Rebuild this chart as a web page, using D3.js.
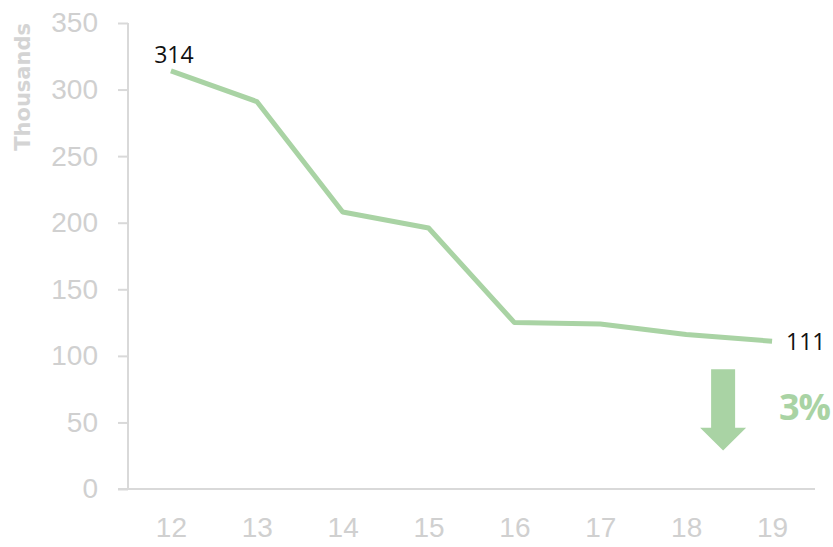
<!DOCTYPE html>
<html>
<head>
<meta charset="utf-8">
<script src="https://cdn.jsdelivr.net/npm/d3@7.9.0/dist/d3.min.js"></script>
<style>
  body { margin: 0; background: #fff; }
  svg { display: block; font-family: "Open Sans", "DejaVu Sans", sans-serif; }
</style>
</head>
<body>
<svg id="chart" width="833" height="547"></svg>
<script>
const years = ['12', '13', '14', '15', '16', '17', '18', '19'];
const values = [314, 291, 208, 196, 125, 124, 116, 111];
const yTicks = [0, 50, 100, 150, 200, 250, 300, 350];
const changeLabel = '3%';

const svg = d3.select('#chart');
const margin = { top: 23, right: 18, bottom: 58, left: 128 };
const w = 833 - margin.left - margin.right;
const h = 547 - margin.top - margin.bottom;
const green = '#a9d3a4';
const grey = '#d0d0d0';

const g = svg.append('g').attr('transform', `translate(${margin.left},${margin.top})`);

const x = d3.scalePoint().domain(years).range([0, w]).padding(0.5);
const y = d3.scaleLinear().domain([0, 350]).range([h, 0]);

// y axis
const yAxis = g.append('g')
  .call(d3.axisLeft(y).tickValues(yTicks).tickSize(10).tickPadding(20));
yAxis.selectAll('text').attr('fill', grey).style('font-size', '28px');
yAxis.selectAll('line').attr('stroke', '#d9d9d9').attr('stroke-width', 2);
yAxis.select('.domain').attr('stroke', '#d9d9d9').attr('stroke-width', 2).attr('d', `M0,0V${h}`);

// x axis
const xAxis = g.append('g')
  .attr('transform', `translate(0,${h})`)
  .call(d3.axisBottom(x).tickSize(0).tickPadding(28));
xAxis.selectAll('text').attr('fill', grey).style('font-size', '28px');
xAxis.select('.domain').attr('stroke', '#d9d9d9').attr('stroke-width', 2).attr('d', `M-10,0H${w}`);

// axis title
svg.append('text')
  .attr('transform', `translate(30,${margin.top + y(302)}) rotate(-90)`)
  .attr('text-anchor', 'middle')
  .attr('fill', '#d4d4d4')
  .style('font-family', '"DejaVu Sans", sans-serif')
  .style('font-size', '21px')
  .style('font-weight', 'bold')
  .text('Thousands');

// line
const line = d3.line()
  .x((d, i) => x(years[i]))
  .y(d => y(d));

g.append('path')
  .datum(values)
  .attr('d', line)
  .attr('fill', 'none')
  .attr('stroke', green)
  .attr('stroke-width', 5)
  .attr('stroke-linejoin', 'round');

// end labels
const last = values.length - 1;
g.append('text')
  .attr('x', x(years[0]) + 3)
  .attr('y', y(values[0]) - 8)
  .attr('text-anchor', 'middle')
  .style('font-size', '23px')
  .attr('fill', '#111')
  .text(values[0]);

g.append('text')
  .attr('x', x(years[last]) + 14)
  .attr('y', y(values[last]) + 9)
  .style('font-size', '23px')
  .attr('fill', '#111')
  .text(values[last]);

// down arrow
const ax = x(years[6]) + (x(years[7]) - x(years[6])) * 0.43;
const a0 = y(90), a1 = y(46), a2 = y(29);
g.append('path')
  .attr('d', `M${ax - 12},${a0}H${ax + 12}V${a1}H${ax + 23}L${ax},${a2}L${ax - 23},${a1}H${ax - 12}Z`)
  .attr('fill', green);

g.append('text')
  .attr('x', 830 - margin.left)
  .attr('y', y(52))
  .attr('text-anchor', 'end')
  .style('font-size', '36px')
  .style('font-weight', 'bold')
  .style('letter-spacing', '-1px')
  .attr('fill', green)
  .text(changeLabel);
</script>
</body>
</html>
